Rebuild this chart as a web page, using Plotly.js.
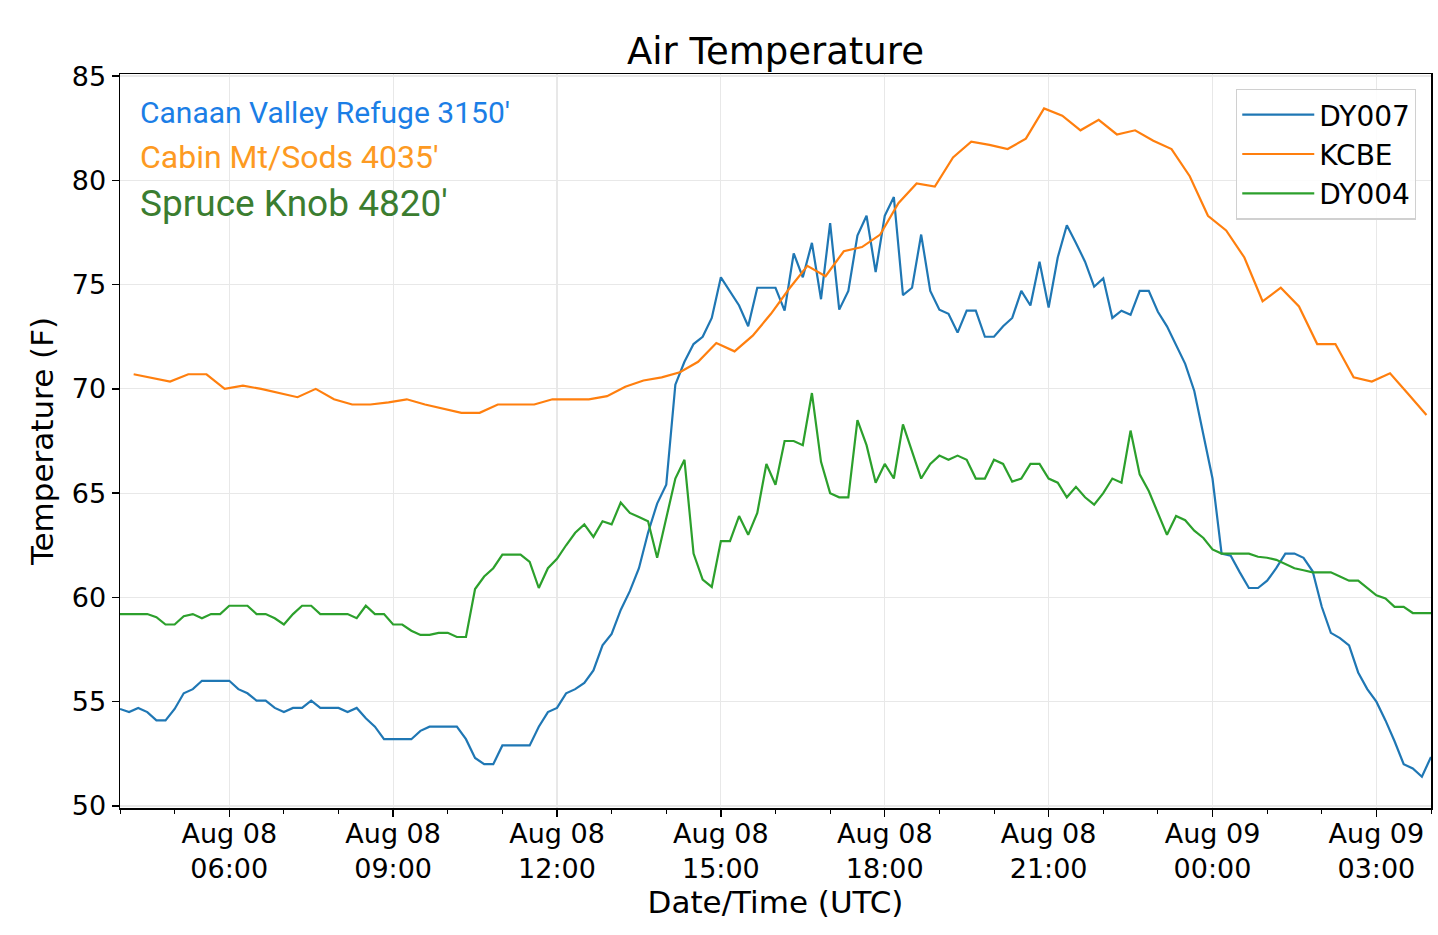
<!DOCTYPE html>
<html>
<head>
<meta charset="utf-8">
<script src="https://cdn.plot.ly/plotly-3.0.1.min.js"></script>
<style>
  body { margin: 0; background: #fff; }
  #chart { width: 1438px; height: 935px; }
</style>
</head>
<body>
<div id="chart"></div>
<script>
// series start times and sampling steps (ms)
var dy_start = '2019-08-08 04:00';
var dy_step = 600000;      // 10 minutes
var kcbe_start = '2019-08-08 04:15';
var kcbe_step = 1200000;   // 20 minutes

// DY007 - Canaan Valley Refuge (F), every 10 min
var dy007 = [
  54.65, 54.5, 54.7, 54.5, 54.1, 54.1, 54.65, 55.4, 55.6, 56.0,
  56.0, 56.0, 56.0, 55.6, 55.4, 55.05, 55.05, 54.7, 54.5, 54.7,
  54.7, 55.05, 54.7, 54.7, 54.7, 54.5, 54.7, 54.2, 53.8, 53.2,
  53.2, 53.2, 53.2, 53.6, 53.8, 53.8, 53.8, 53.8, 53.2, 52.3,
  52.0, 52.0, 52.9, 52.9, 52.9, 52.9, 53.8, 54.5, 54.7, 55.4,
  55.6, 55.9, 56.5, 57.7, 58.25, 59.4, 60.3, 61.4, 63.1, 64.5,
  65.4, 70.2, 71.3, 72.15, 72.5, 73.4, 75.35, 74.7, 74.0, 73.0,
  74.85, 74.85, 74.85, 73.75, 76.5, 75.35, 77.0, 74.3, 77.95, 73.8,
  74.7, 77.35, 78.3, 75.6, 78.3, 79.2, 74.5, 74.85, 77.4, 74.7,
  73.8, 73.6, 72.7, 73.75, 73.75, 72.5, 72.5, 73.0, 73.4, 74.7,
  74.0, 76.1, 73.9, 76.3, 77.85, 77.0, 76.1, 74.9, 75.3, 73.4,
  73.75, 73.55, 74.7, 74.7, 73.7, 73.0, 72.1, 71.2, 69.9, 67.8,
  65.7, 62.1, 62.0, 61.2, 60.45, 60.45, 60.8, 61.4, 62.1, 62.1,
  61.9, 61.25, 59.55, 58.3, 58.05, 57.7, 56.4, 55.6, 55.0, 54.1,
  53.1, 52.0, 51.8, 51.4, 52.35
];

// KCBE - Cabin Mt/Sods (F), every 20 min at :15 :35 :55
var kcbe = [
  70.7, 70.53, 70.35,  70.7, 70.7, 70.0,  70.15, 70.0, 69.8,
  69.6, 70.0, 69.5,    69.25, 69.25, 69.35,  69.5, 69.25, 69.05,
  68.85, 68.85, 69.25, 69.25, 69.25, 69.5,  69.5, 69.5, 69.65,
  70.1, 70.4, 70.55,   70.8, 71.3, 72.2,  71.8, 72.55, 73.6,
  74.8, 75.9, 75.4,    76.6, 76.8, 77.4,  78.9, 79.85, 79.7,
  81.1, 81.85, 81.7,   81.5, 82.0, 83.45,  83.1, 82.4, 82.9,
  82.2, 82.4, 81.9,    81.5, 80.2, 78.3,  77.6, 76.3, 74.2,
  74.85, 73.95, 72.15, 72.15, 70.55, 70.35,  70.75, 69.75, 68.75
];

// DY004 - Spruce Knob (F), every 10 min
var dy004 = [
  59.2, 59.2, 59.2, 59.2, 59.05, 58.7, 58.7, 59.1, 59.2, 59.0,
  59.2, 59.2, 59.6, 59.6, 59.6, 59.2, 59.2, 59.0, 58.7, 59.2,
  59.6, 59.6, 59.2, 59.2, 59.2, 59.2, 59.0, 59.6, 59.2, 59.2,
  58.7, 58.7, 58.4, 58.2, 58.2, 58.3, 58.3, 58.1, 58.1, 60.4,
  61.0, 61.4, 62.05, 62.05, 62.05, 61.7, 60.45, 61.4, 61.85, 62.5,
  63.1, 63.5, 62.9, 63.65, 63.5, 64.55, 64.05, 63.85, 63.65, 61.9,
  63.8, 65.7, 66.6, 62.1, 60.85, 60.5, 62.7, 62.7, 63.9, 63.0,
  64.05, 66.4, 65.4, 67.5, 67.5, 67.3, 69.8, 66.5, 65.0, 64.8,
  64.8, 68.5, 67.3, 65.5, 66.4, 65.7, 68.3, 67.0, 65.7, 66.4,
  66.8, 66.6, 66.8, 66.6, 65.7, 65.7, 66.6, 66.4, 65.55, 65.7,
  66.4, 66.4, 65.7, 65.5, 64.8, 65.3, 64.8, 64.45, 65.0, 65.7,
  65.5, 68.0, 65.9, 65.1, 64.05, 63.0, 63.9, 63.7, 63.2, 62.85,
  62.3, 62.1, 62.1, 62.1, 62.1, 61.95, 61.9, 61.8, 61.6, 61.4,
  61.3, 61.2, 61.2, 61.2, 61.0, 60.8, 60.8, 60.45, 60.1, 59.95,
  59.55, 59.55, 59.25, 59.25, 59.25
];

var stationNotes = ["Canaan Valley Refuge 3150'", "Cabin Mt/Sods 4035'", "Spruce Knob 4820'"];

var tickFont = {family: 'DejaVu Sans', size: 27, color: '#000'};

var traces = [
  {name: 'DY007', y: dy007, x0: dy_start, dx: dy_step, type: 'scatter', mode: 'lines',
   line: {color: '#1f77b4', width: 2.2}},
  {name: 'KCBE', y: kcbe, x0: kcbe_start, dx: kcbe_step, type: 'scatter', mode: 'lines',
   line: {color: '#ff7f0e', width: 2.2}},
  {name: 'DY004', y: dy004, x0: dy_start, dx: dy_step, type: 'scatter', mode: 'lines',
   line: {color: '#2ca02c', width: 2.2}}
];

var layout = {
  width: 1438,
  height: 935,
  margin: {l: 120, r: 7, t: 74, b: 127},
  paper_bgcolor: '#fff',
  plot_bgcolor: '#fff',
  title: {text: 'Air Temperature', font: {family: 'DejaVu Sans', size: 37, color: '#000'},
          x: 0.5393, xanchor: 'center', y: 0.945, yanchor: 'middle'},
  xaxis: {
    type: 'date',
    range: ['2019-08-08 04:00', '2019-08-09 04:00'],
    tickmode: 'linear',
    tick0: '2019-08-08 06:00',
    dtick: 3 * 3600000,
    tickformat: '%b %d<br>%H:%M',
    tickfont: tickFont,
    ticklabelstandoff: -6,
    ticks: 'outside', ticklen: 7, tickwidth: 1.3, tickcolor: '#000',
    minor: {dtick: 3600000, tick0: '2019-08-08 06:00', ticks: 'outside', ticklen: 4,
            tickwidth: 1, tickcolor: '#000', showgrid: false},
    showgrid: true, gridcolor: '#e8e8e8', gridwidth: 1.2,
    showline: true, linecolor: '#000', linewidth: 1.5, mirror: true,
    zeroline: false,
    title: {text: 'Date/Time (UTC)', font: {family: 'DejaVu Sans', size: 31, color: '#000'}, standoff: 4}
  },
  yaxis: {
    range: [49.9, 85.1],
    tickmode: 'linear', tick0: 50, dtick: 5,
    tickfont: tickFont,
    ticks: 'outside', ticklen: 7, tickwidth: 1.3, tickcolor: '#000',
    showgrid: true, gridcolor: '#e8e8e8', gridwidth: 1.2,
    showline: true, linecolor: '#000', linewidth: 1.5, mirror: true,
    zeroline: false,
    title: {text: 'Temperature (F)', font: {family: 'DejaVu Sans', size: 31, color: '#000'}, standoff: 9}
  },
  showlegend: true,
  legend: {
    x: 0.9886, xanchor: 'right', y: 0.98, yanchor: 'top',
    font: {family: 'DejaVu Sans', size: 28, color: '#000'},
    bgcolor: 'rgba(255,255,255,0.85)', bordercolor: '#d0d0d0', borderwidth: 1.2,
    itemwidth: 72,
    tracegroupgap: 0
  },
  annotations: [
    {text: stationNotes[0], xref: 'paper', yref: 'paper', x: 0.0137, y: 0.948,
     xanchor: 'left', yanchor: 'middle', showarrow: false,
     font: {family: 'Roboto', size: 30, color: '#1b7ee6'}},
    {text: stationNotes[1], xref: 'paper', yref: 'paper', x: 0.0137, y: 0.887,
     xanchor: 'left', yanchor: 'middle', showarrow: false,
     font: {family: 'Roboto', size: 32, color: '#fd9a22'}},
    {text: stationNotes[2], xref: 'paper', yref: 'paper', x: 0.0137, y: 0.823,
     xanchor: 'left', yanchor: 'middle', showarrow: false,
     font: {family: 'Roboto', size: 37, color: '#3b7d30'}}
  ]
};

Plotly.newPlot('chart', traces, layout, {displayModeBar: false, staticPlot: true});
</script>
</body>
</html>
